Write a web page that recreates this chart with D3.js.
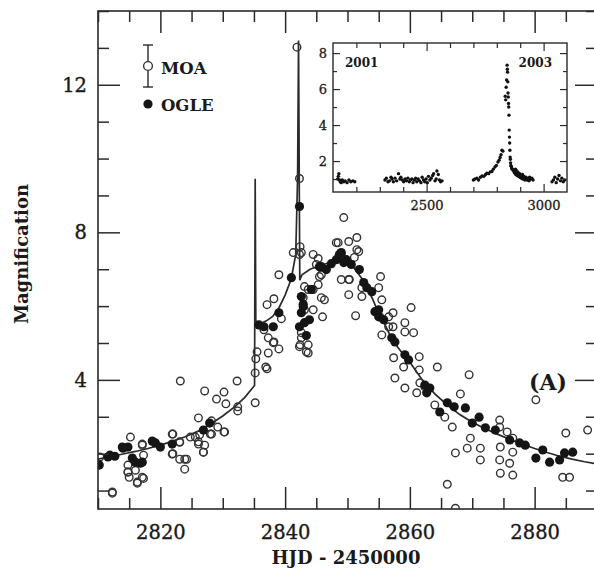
<!DOCTYPE html>
<html>
<head>
<meta charset="utf-8">
<script src="https://cdn.jsdelivr.net/npm/d3@7"></script>
<style>
  html, body { margin: 0; padding: 0; background: #fff; }
  svg { display: block; }
</style>
</head>
<body>
<svg id="chart" width="594" height="574"></svg>
<script>
// ---- main panel: MOA (open) and OGLE (filled) magnification vs HJD-2450000
const moaT = [2812.3, 2810.3, 2815.2, 2814.8, 2814.8, 2815.0, 2816.3, 2817.1, 2817.1, 2816.0,
  2817.3, 2823.2, 2821.9, 2823.1, 2821.9, 2823.1, 2824.2, 2823.9, 2824.8, 2826.1,
  2827.1, 2826.3, 2826.1, 2827.1, 2826.9, 2828.2, 2829.2, 2828.2, 2829.0, 2830.2,
  2830.5, 2830.3, 2832.3, 2832.4, 2832.4, 2835.2, 2835.2, 2835.3, 2835.5, 2837.1,
  2837.3, 2838.1, 2839.0, 2837.1, 2838.2, 2837.3, 2841.9, 2842.3, 2842.4, 2842.3,
  2841.3, 2839.0, 2839.4, 2836.6, 2838.2, 2836.9, 2844.5, 2845.3, 2845.5, 2845.3,
  2846.3, 2846.0, 2844.5, 2843.7, 2842.6, 2842.4, 2843.4, 2843.7, 2849.4, 2848.5,
  2850.2, 2851.5, 2851.5, 2851.1, 2849.0, 2850.2, 2850.2, 2851.3, 2852.3, 2849.0,
  2855.0, 2855.3, 2855.5, 2855.5, 2856.6, 2857.3, 2857.3, 2859.2, 2859.2, 2860.2,
  2860.6, 2857.4, 2857.6, 2859.0, 2859.2, 2861.5, 2861.5, 2861.6, 2861.1, 2862.4,
  2864.4, 2864.0, 2868.1, 2869.5, 2865.6, 2866.8, 2867.3, 2869.2, 2869.7, 2871.3,
  2871.3, 2874.4, 2874.4, 2874.5, 2874.4, 2874.5, 2875.6, 2876.5, 2876.5, 2876.0,
  2880.2, 2888.5, 2885.0, 2884.5, 2885.6, 2866.0, 2867.3, 2876.5, 2842.6, 2845.0,
  2845.8, 2848.2, 2851.8, 2850.3, 2845.8, 2843.1, 2842.9, 2843.1, 2844.5, 2842.6,
  2842.3, 2843.7, 2852.3, 2855.2, 2856.6, 2822.0, 2823.1, 2822.0, 2823.9, 2825.6,
  2826.1, 2826.9, 2828.0, 2830.2, 2817.1, 2814.8, 2816.3, 2817.3, 2812.3];
const moaA = [0.96, 1.91, 2.45, 1.69, 1.50, 1.36, 1.20, 1.36, 2.26, 1.55,
  1.96, 3.97, 2.53, 2.32, 1.99, 1.85, 1.85, 1.58, 2.45, 2.97,
  3.70, 2.51, 2.32, 2.23, 2.04, 2.89, 2.72, 2.53, 3.48, 3.67,
  3.35, 2.59, 3.97, 3.27, 3.16, 3.38, 4.19, 4.57, 4.76, 4.30,
  4.73, 5.01, 4.84, 6.04, 6.20, 5.14, 13.02, 9.46, 7.61, 7.40,
  7.45, 6.85, 5.66, 5.36, 5.03, 4.35, 7.40, 7.29, 6.80, 6.58,
  6.17, 5.71, 6.45, 6.45, 5.14, 4.95, 4.76, 4.95, 8.40, 7.72,
  7.75, 7.86, 7.53, 7.32, 6.72, 6.72, 6.31, 5.74, 6.26, 7.40,
  6.50, 6.80, 6.17, 5.22, 5.71, 5.82, 5.44, 5.55, 5.30, 5.96,
  5.28, 4.60, 4.05, 4.35, 3.78, 4.63, 4.27, 3.92, 3.65, 3.81,
  4.35, 3.32, 3.62, 4.14, 2.99, 2.72, 2.02, 2.15, 2.42, 2.15,
  1.83, 2.91, 2.72, 2.18, 1.83, 1.47, 2.59, 2.42, 2.04, 1.74,
  3.46, 2.64, 2.56, 1.36, 1.36, 1.17, 0.52, 1.42, 7.45, 7.13,
  6.85, 7.72, 7.48, 6.72, 6.23, 6.53, 6.23, 5.90, 5.90, 5.28,
  4.90, 4.73, 6.50, 5.71, 5.44, 2.53, 2.31, 2.00, 1.85, 2.45,
  2.26, 2.04, 2.53, 2.59, 2.23, 1.50, 1.23, 1.33, 0.93];

const ogleT = [2810.2, 2811.6, 2812.7, 2813.9, 2814.8, 2815.5, 2816.0, 2816.8, 2818.7, 2819.2,
  2820.0, 2821.9, 2826.9, 2827.9, 2835.8, 2836.6, 2838.1, 2839.0, 2841.0, 2842.3,
  2842.6, 2842.9, 2842.6, 2843.1, 2842.3, 2843.9, 2844.2, 2845.8, 2846.6, 2847.4,
  2848.2, 2849.0, 2849.8, 2850.6, 2851.9, 2852.6, 2853.1, 2854.4, 2855.0, 2853.9,
  2855.0, 2855.8, 2857.1, 2857.6, 2859.2, 2859.8, 2862.4, 2863.2, 2862.7, 2864.8,
  2866.0, 2867.1, 2868.9, 2870.0, 2871.1, 2872.1, 2873.7, 2876.0, 2877.6, 2878.5,
  2881.3, 2880.2, 2882.4, 2884.0, 2884.8, 2886.1, 2845.5, 2848.7, 2849.4, 2814.0,
  2811.9, 2817.1, 2843.4, 2842.9];
const ogleA = [1.69, 1.91, 1.93, 2.18, 2.18, 1.88, 1.77, 1.74, 2.34, 2.29,
  2.18, 2.26, 2.64, 2.83, 5.49, 5.44, 5.44, 5.82, 6.77, 8.70,
  6.26, 5.98, 5.82, 5.55, 5.44, 5.63, 6.45, 7.07, 6.99, 7.15,
  7.26, 7.45, 7.26, 7.13, 6.99, 6.64, 6.50, 5.85, 5.71, 6.39,
  5.90, 5.63, 5.14, 5.03, 4.68, 4.54, 3.86, 3.78, 3.65, 3.13,
  3.38, 3.27, 3.24, 2.83, 2.99, 2.70, 2.64, 2.37, 2.29, 2.23,
  2.10, 1.88, 1.77, 1.83, 2.02, 2.04, 7.07, 7.40, 7.18, 2.15,
  1.96, 1.77, 5.20, 6.05];

// binary-lens model curve
const modelT = [2810, 2812, 2814, 2816, 2818, 2820, 2822, 2824, 2826, 2828,
  2830, 2832, 2833.5, 2835.1, 2835.2, 2835.3, 2836, 2837, 2838, 2839,
  2840, 2841, 2841.7, 2842.0, 2842.15, 2842.35, 2842.7, 2844, 2846, 2848,
  2849.5, 2851, 2852.5, 2854, 2855, 2856, 2857, 2858, 2859, 2860,
  2862, 2864, 2866, 2868, 2870, 2872, 2874, 2876, 2878, 2880,
  2882, 2884, 2886, 2888, 2890];
const modelA = [1.85, 1.92, 1.99, 2.06, 2.14, 2.23, 2.34, 2.46, 2.61, 2.80,
  3.02, 3.28, 3.52, 3.85, 9.45, 5.60, 5.52, 5.60, 5.72, 5.95,
  6.30, 6.75, 7.40, 9.50, 13.2, 6.70, 6.85, 7.00, 7.12, 7.22,
  7.25, 7.05, 6.70, 6.20, 5.80, 5.50, 5.15, 4.90, 4.68, 4.48,
  4.00, 3.62, 3.32, 3.06, 2.85, 2.68, 2.53, 2.39, 2.26, 2.14,
  2.03, 1.93, 1.85, 1.78, 1.72];

// ---- inset: full 2001-2004 light curve
const insetT = [2120, 2123, 2125, 2128, 2131, 2135, 2140, 2146, 2152, 2160, 2168, 2176, 2185, 2193,
  2322, 2328, 2335, 2341, 2348, 2352, 2358, 2365, 2372, 2380, 2386, 2390, 2396, 2402,
  2408, 2414, 2420, 2426, 2431, 2437, 2442, 2448, 2453, 2458, 2464, 2470, 2476, 2481,
  2487, 2492, 2498, 2503, 2508, 2514, 2520, 2526, 2530, 2536, 2541, 2544, 2550, 2555, 2560, 2566,
  2700, 2707, 2715, 2722, 2730, 2737, 2745, 2752, 2758, 2765, 2772, 2779, 2785, 2792,
  2798, 2805, 2810, 2814, 2818, 2822, 2826, 2836, 2838, 2840, 2842, 2844, 2845, 2846,
  2847, 2848, 2849, 2850, 2851, 2852, 2853, 2854, 2855, 2856, 2857, 2858, 2859, 2860,
  2862, 2864, 2866, 2869, 2872, 2875, 2878, 2881, 2884, 2887, 2890, 2893, 2896, 2899,
  2902, 2905, 2908, 2911, 2914, 2917, 2920, 2924, 2928, 2932, 2936, 2940, 2945, 2950, 2955,
  2880, 2886, 2892, 2898, 2904, 2910, 2916, 2922, 2930, 2938,
  3036, 3042, 3048, 3054, 3060, 3066, 3072, 3078, 3084, 3090];
const insetA = [1.00, 1.15, 1.30, 0.95, 0.85, 0.80, 0.95, 0.85, 0.90, 0.80, 0.95, 0.85, 0.90, 0.85,
  0.95, 1.05, 0.85, 0.90, 1.10, 1.00, 0.85, 1.05, 0.90, 1.30, 1.00, 1.10, 0.95, 0.85,
  1.00, 0.90, 1.05, 0.85, 0.95, 1.00, 0.80, 0.95, 1.05, 0.85, 1.00, 0.90, 0.80, 1.10,
  0.95, 0.85, 1.00, 0.80, 1.15, 0.95, 1.05, 1.20, 1.30, 0.90, 1.00, 1.45, 1.25, 0.95, 0.85, 0.90,
  0.95, 1.00, 1.05, 0.95, 1.10, 1.17, 1.15, 1.25, 1.33, 1.30, 1.40, 1.42, 1.55, 1.67,
  1.75, 1.95, 2.05, 2.20, 2.35, 2.60, 2.55, 5.60, 5.40, 6.10, 6.50, 7.33, 7.10, 6.94,
  6.40, 5.78, 5.56, 5.20, 5.00, 4.55, 3.72, 3.33, 3.00, 2.60, 2.22, 2.10, 1.90, 1.75,
  1.70, 1.60, 1.55, 1.50, 1.45, 1.35, 1.40, 1.25, 1.30, 1.20, 1.25, 1.15, 1.20, 1.10,
  1.15, 1.05, 1.10, 1.00, 1.10, 1.05, 0.95, 1.10, 1.00, 1.05, 0.95, 1.10, 1.00, 1.05, 0.95,
  1.55, 1.45, 1.35, 1.30, 1.20, 1.25, 1.15, 1.05, 0.95, 0.90,
  0.85, 0.95, 1.10, 0.80, 1.00, 1.20, 0.90, 1.05, 0.85, 0.95];

const xMajor = [2820, 2840, 2860, 2880];
const yMajor = [4, 8, 12];
const insetXMajor = [2500, 3000];
const insetYMajor = [2, 4, 6, 8];

const ink = "#2a2a2a";
const serif = "'DejaVu Serif', 'Liberation Serif', serif";
const svg = d3.select("#chart");

// scales
const x = d3.scaleLinear().domain([2810, 2890]).range([98, 597]);
const y = d3.scaleLinear().domain([0.5, 14]).range([509, 11]);

svg.append("defs").append("clipPath").attr("id", "plotclip")
  .append("rect").attr("x", 98).attr("y", 11).attr("width", 499).attr("height", 498);

// model curve
const line = d3.line().x((d, i) => x(modelT[i])).y((d, i) => y(modelA[i]));
svg.append("path")
  .datum(modelA)
  .attr("clip-path", "url(#plotclip)")
  .attr("d", line)
  .attr("fill", "none")
  .attr("stroke", ink)
  .attr("stroke-width", 1.7);

// MOA open circles
svg.append("g").attr("clip-path", "url(#plotclip)")
  .selectAll("circle").data(moaT).join("circle")
  .attr("cx", d => x(d))
  .attr("cy", (d, i) => y(moaA[i]))
  .attr("r", 3.8)
  .attr("fill", "none")
  .attr("stroke", "#333")
  .attr("stroke-width", 1.4);

// OGLE filled circles
svg.append("g").attr("clip-path", "url(#plotclip)")
  .selectAll("circle").data(ogleT).join("circle")
  .attr("cx", d => x(d))
  .attr("cy", (d, i) => y(ogleA[i]))
  .attr("r", 4.6)
  .attr("fill", "#151515");

// frame + inward ticks on all sides
function styleAxis(g) {
  g.select(".domain").remove();
  g.selectAll(".tick line").attr("stroke", ink).attr("stroke-width", 1.5);
  g.selectAll("text").attr("fill", "#1a1a1a").attr("font-family", serif).attr("font-size", 19.5)
    .attr("stroke", "#1a1a1a").attr("stroke-width", 0.35);
}
const xMinor = d3.range(2810, 2891, 5).filter(v => !xMajor.includes(v));
const yMinor = d3.range(1, 14.1, 1).filter(v => !yMajor.includes(v));

svg.append("g").attr("transform", "translate(0,509)")
  .call(d3.axisBottom(x).tickValues(xMajor).tickSize(-22).tickPadding(16).tickFormat(d3.format("d")))
  .call(styleAxis);
svg.append("g").attr("transform", "translate(0,509)")
  .call(d3.axisBottom(x).tickValues(xMinor).tickSize(-11).tickFormat(""))
  .call(styleAxis);
svg.append("g").attr("transform", "translate(0,11)")
  .call(d3.axisTop(x).tickValues(xMajor).tickSize(-22).tickFormat(""))
  .call(styleAxis);
svg.append("g").attr("transform", "translate(0,11)")
  .call(d3.axisTop(x).tickValues(xMinor).tickSize(-11).tickFormat(""))
  .call(styleAxis);
svg.append("g").attr("transform", "translate(98,0)")
  .call(d3.axisLeft(y).tickValues(yMajor).tickSize(-22).tickPadding(11))
  .call(styleAxis);
svg.append("g").attr("transform", "translate(98,0)")
  .call(d3.axisLeft(y).tickValues(yMinor).tickSize(-11).tickFormat(""))
  .call(styleAxis);
svg.append("g").attr("transform", "translate(597,0)")
  .call(d3.axisRight(y).tickValues(yMajor).tickSize(-22).tickFormat(""))
  .call(styleAxis);
svg.append("g").attr("transform", "translate(597,0)")
  .call(d3.axisRight(y).tickValues(yMinor).tickSize(-11).tickFormat(""))
  .call(styleAxis);

svg.append("rect")
  .attr("x", 98).attr("y", 11).attr("width", 499).attr("height", 498)
  .attr("fill", "none").attr("stroke", ink).attr("stroke-width", 1.6);

// axis titles
svg.append("text")
  .attr("x", 346).attr("y", 564)
  .attr("text-anchor", "middle")
  .attr("font-family", serif).attr("font-size", 18).attr("font-weight", "bold")
  .attr("fill", "#1a1a1a")
  .text("HJD - 2450000");
svg.append("text")
  .attr("transform", "translate(28,254) rotate(-90)")
  .attr("text-anchor", "middle")
  .attr("font-family", serif).attr("font-size", 18).attr("font-weight", "bold")
  .attr("fill", "#1a1a1a")
  .text("Magnification");

// panel tag
svg.append("text")
  .attr("x", 548).attr("y", 390)
  .attr("text-anchor", "middle")
  .attr("font-family", serif).attr("font-size", 22).attr("font-weight", "bold")
  .attr("fill", "#1a1a1a")
  .text("(A)");

// legend
const leg = svg.append("g").attr("font-family", serif).attr("font-size", 16.5)
  .attr("font-weight", "bold").attr("fill", "#1a1a1a");
leg.append("line").attr("x1", 148).attr("x2", 148).attr("y1", 45).attr("y2", 87)
  .attr("stroke", ink).attr("stroke-width", 1.4);
leg.append("line").attr("x1", 143).attr("x2", 153).attr("y1", 45).attr("y2", 45)
  .attr("stroke", ink).attr("stroke-width", 1.4);
leg.append("line").attr("x1", 143).attr("x2", 153).attr("y1", 87).attr("y2", 87)
  .attr("stroke", ink).attr("stroke-width", 1.4);
leg.append("circle").attr("cx", 148).attr("cy", 66).attr("r", 4.4)
  .attr("fill", "#fff").attr("stroke", "#333").attr("stroke-width", 1.4);
leg.append("text").attr("x", 161).attr("y", 74).text("MOA");
leg.append("circle").attr("cx", 148).attr("cy", 104).attr("r", 4.6).attr("fill", "#151515");
leg.append("text").attr("x", 161).attr("y", 111).text("OGLE");

// ---- inset
const ix = d3.scaleLinear().domain([2100, 3100]).range([333, 567]);
const iy = d3.scaleLinear().domain([0.28, 8.56]).range([192, 43]);

svg.append("rect")
  .attr("x", 333).attr("y", 43).attr("width", 234).attr("height", 149)
  .attr("fill", "#fff");

svg.append("g")
  .selectAll("circle").data(insetT).join("circle")
  .attr("cx", d => ix(d))
  .attr("cy", (d, i) => iy(insetA[i]))
  .attr("r", 1.7)
  .attr("fill", "#111");

function styleInset(g) {
  g.select(".domain").remove();
  g.selectAll(".tick line").attr("stroke", ink).attr("stroke-width", 1.2);
  g.selectAll("text").attr("fill", "#1a1a1a").attr("font-family", serif).attr("font-size", 13)
    .attr("stroke", "#1a1a1a").attr("stroke-width", 0.3);
}
const ixMinor = d3.range(2200, 3100, 100).filter(v => !insetXMajor.includes(v));
const iyMinor = [1, 3, 5, 7];

svg.append("g").attr("transform", "translate(0,192)")
  .call(d3.axisBottom(ix).tickValues(insetXMajor).tickSize(-8).tickPadding(9).tickFormat(d3.format("d")))
  .call(styleInset);
svg.append("g").attr("transform", "translate(0,192)")
  .call(d3.axisBottom(ix).tickValues(ixMinor).tickSize(-5).tickFormat(""))
  .call(styleInset);
svg.append("g").attr("transform", "translate(0,43)")
  .call(d3.axisTop(ix).tickValues(insetXMajor).tickSize(-8).tickFormat(""))
  .call(styleInset);
svg.append("g").attr("transform", "translate(0,43)")
  .call(d3.axisTop(ix).tickValues(ixMinor).tickSize(-5).tickFormat(""))
  .call(styleInset);
svg.append("g").attr("transform", "translate(333,0)")
  .call(d3.axisLeft(iy).tickValues(insetYMajor).tickSize(-7).tickPadding(6))
  .call(styleInset);
svg.append("g").attr("transform", "translate(333,0)")
  .call(d3.axisLeft(iy).tickValues(iyMinor).tickSize(-4).tickFormat(""))
  .call(styleInset);
svg.append("g").attr("transform", "translate(567,0)")
  .call(d3.axisRight(iy).tickValues(insetYMajor).tickSize(-7).tickFormat(""))
  .call(styleInset);
svg.append("g").attr("transform", "translate(567,0)")
  .call(d3.axisRight(iy).tickValues(iyMinor).tickSize(-4).tickFormat(""))
  .call(styleInset);

svg.append("rect")
  .attr("x", 333).attr("y", 43).attr("width", 234).attr("height", 149)
  .attr("fill", "none").attr("stroke", ink).attr("stroke-width", 1.4);

svg.append("text").attr("x", 345).attr("y", 67)
  .attr("font-family", serif).attr("font-size", 12).attr("font-weight", "bold")
  .attr("fill", "#1a1a1a").text("2001");
svg.append("text").attr("x", 552).attr("y", 67).attr("text-anchor", "end")
  .attr("font-family", serif).attr("font-size", 12).attr("font-weight", "bold")
  .attr("fill", "#1a1a1a").text("2003");
</script>
</body>
</html>
